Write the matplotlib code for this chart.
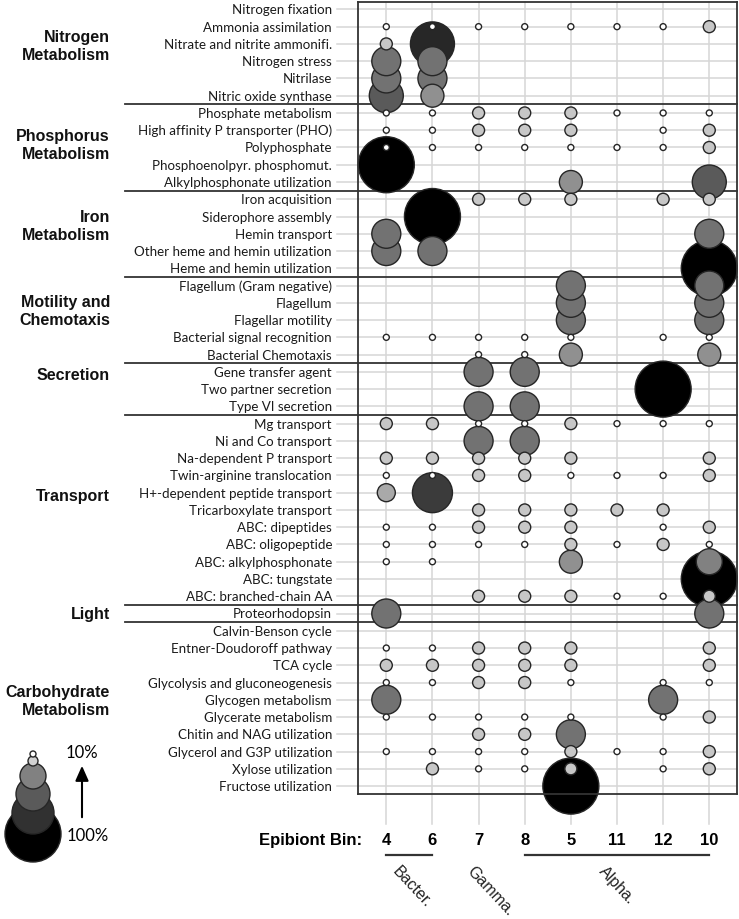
import numpy as np
import matplotlib
matplotlib.use("Agg")
import matplotlib.pyplot as plt
from matplotlib.colors import LinearSegmentedColormap

N = None
bins = ["4", "6", "7", "8", "5", "11", "12", "10"]

nitrogen_functions = ["Nitrogen fixation", "Ammonia assimilation", "Nitrate and nitrite ammonifi.",
                      "Nitrogen stress", "Nitrilase", "Nitric oxide synthase"]
nitrogen_values = [[N, N, N, N, N, N, N, N],
                   [0, 0, 0, 0, 0, 0, 0, 12],
                   [12, 76, N, N, N, N, N, N],
                   [46, 46, N, N, N, N, N, N],
                   [46, 46, N, N, N, N, N, N],
                   [56, 34, N, N, N, N, N, N]]

phosphorus_functions = ["Phosphate metabolism", "High affinity P transporter (PHO)", "Polyphosphate",
                        "Phosphoenolpyr. phosphomut.", "Alkylphosphonate utilization"]
phosphorus_values = [[0, 0, 12, 12, 12, 0, 0, 0],
                     [0, 0, 12, 12, 12, N, 0, 12],
                     [0, 0, 0, 0, 0, 0, 0, 12],
                     [100, N, N, N, N, N, N, N],
                     [N, N, N, N, 34, N, N, 56]]

iron_functions = ["Iron acquisition", "Siderophore assembly", "Hemin transport",
                  "Other heme and hemin utilization", "Heme and hemin utilization"]
iron_values = [[N, N, 12, 12, 12, N, 12, 12],
               [N, 100, N, N, N, N, N, N],
               [46, N, N, N, N, N, N, 46],
               [46, 46, N, N, N, N, N, N],
               [N, N, N, N, N, N, N, 100]]

motility_functions = ["Flagellum (Gram negative)", "Flagellum", "Flagellar motility",
                      "Bacterial signal recognition", "Bacterial Chemotaxis"]
motility_values = [[N, N, N, N, 46, N, N, 46],
                   [N, N, N, N, 46, N, N, 46],
                   [N, N, N, N, 46, N, N, 46],
                   [0, 0, 0, 0, 0, N, 0, 0],
                   [N, N, 0, 0, 34, N, N, 34]]

secretion_functions = ["Gene transfer agent", "Two partner secretion", "Type VI secretion"]
secretion_values = [[N, N, 46, 46, N, N, N, N],
                    [N, N, N, N, N, N, 100, N],
                    [N, N, 46, 46, N, N, N, N]]

transport_functions = ["Mg transport", "Ni and Co transport", "Na-dependent P transport",
                       "Twin-arginine translocation", "H+-dependent peptide transport",
                       "Tricarboxylate transport", "ABC: dipeptides", "ABC: oligopeptide",
                       "ABC: alkylphosphonate", "ABC: tungstate", "ABC: branched-chain AA"]
transport_values = [[12, 12, 0, 0, 12, 0, 0, 0],
                    [N, N, 46, 46, N, N, N, N],
                    [12, 12, 12, 12, 12, N, N, 12],
                    [0, 0, 12, 12, 0, 0, 0, 12],
                    [24, 68, N, N, N, N, N, N],
                    [N, N, 12, 12, 12, 12, 12, N],
                    [0, 0, 12, 12, 12, N, 0, 12],
                    [0, 0, 0, 0, 12, 0, 12, 0],
                    [0, 0, N, N, 34, N, N, 40],
                    [N, N, N, N, N, N, N, 100],
                    [N, N, 12, 12, 12, 0, 0, 12]]

light_functions = ["Proteorhodopsin"]
light_values = [[46, N, N, N, N, N, N, 46]]

carbo_functions = ["Calvin-Benson cycle", "Entner-Doudoroff pathway", "TCA cycle",
                   "Glycolysis and gluconeogenesis", "Glycogen metabolism", "Glycerate metabolism",
                   "Chitin and NAG utilization", "Glycerol and G3P utilization",
                   "Xylose utilization", "Fructose utilization"]
carbo_values = [[N, N, N, N, N, N, N, N],
                [0, 0, 12, 12, 12, N, N, 12],
                [12, 12, 12, 12, 12, N, N, 12],
                [0, 0, 12, 12, 0, N, 0, 0],
                [46, N, N, N, N, N, 46, N],
                [0, 0, 0, 0, 0, N, 0, 12],
                [N, N, 12, 12, 46, N, N, N],
                [0, 0, 0, 0, 12, 0, 0, 12],
                [N, 12, 0, 0, 12, N, 0, 12],
                [N, N, N, N, 100, N, N, N]]

section_names = ["Nitrogen\nMetabolism", "Phosphorus\nMetabolism", "Iron\nMetabolism",
                 "Motility and\nChemotaxis", "Secretion", "Transport", "Light",
                 "Carbohydrate\nMetabolism"]
section_functions = [nitrogen_functions, phosphorus_functions, iron_functions, motility_functions,
                     secretion_functions, transport_functions, light_functions, carbo_functions]
section_values = [nitrogen_values, phosphorus_values, iron_values, motility_values,
                  secretion_values, transport_values, light_values, carbo_values]
section_label_rows = [2.12, 7.8, 12.5, 17.45, 21.15, 28.15, 35.0, 40.05]

legend_values = [100, 72, 56, 40, 8, 0]
legend_ypx = [835, 814, 795, 777, 762, 755]

# ---------------------------------------------------------------
W, H, DPI = 739, 920, 100
fig = plt.figure(figsize=(W / DPI, H / DPI), dpi=DPI)
fig.patch.set_facecolor("white")

cmap = LinearSegmentedColormap.from_list(
    "bub", [(0.0, "#ffffff"), (0.02, "#e0e0e0"), (1.0, "#000000")])
VMAX = 92.0


def size_of(v):
    r_px = 3 + 0.25 * np.asarray(v, dtype=float)
    return (2 * r_px * 72.0 / DPI) ** 2


# overlay axes in pixel coordinates (for legend)
ov = fig.add_axes([0, 0, 1, 1], zorder=0)
ov.set_xlim(0, W)
ov.set_ylim(H, 0)
ov.axis("off")

# main axes
left_px, right_px, top_px, bot_px = 358, 737, 3, 795
ax = fig.add_axes([left_px / W, 1 - bot_px / H, (right_px - left_px) / W, (bot_px - top_px) / H],
                  zorder=1)
ax.patch.set_alpha(0)
x0_px, dx_px = 386.3, 46.14
y0_px, dy_px = 10.4, 17.26
ax.set_xlim((left_px - x0_px) / dx_px, (right_px - x0_px) / dx_px)
ax.set_ylim((bot_px - y0_px) / dy_px, (top_px - y0_px) / dy_px)
ax.set_xticks([])
ax.set_yticks([])
for s in ax.spines.values():
    s.set_color("#333333")
    s.set_linewidth(1.3)
    s.set_zorder(3)


def px2x(p):
    return (p - x0_px) / dx_px


def px2y(p):
    return (p - y0_px) / dy_px


all_functions = [f for fs in section_functions for f in fs]
all_values = [row for vs in section_values for row in vs]
nrows = len(all_functions)
ncols = len(bins)

xl, xr = ax.get_xlim()
# row grid lines
for r in range(nrows):
    ax.plot([px2x(337), xr], [r, r], color="#d6d6d6", lw=1.1, zorder=0, clip_on=False)
# column grid lines
for c in range(ncols):
    ax.plot([c, c], [px2y(top_px), px2y(825)], color="#d6d6d6", lw=1.1, zorder=0, clip_on=False)

# section dividers and labels
start = 0
for k, fs in enumerate(section_functions):
    end = start + len(fs)
    if k < len(section_functions) - 1:
        ax.plot([px2x(125), xr], [end - 0.5, end - 0.5], color="#333333", lw=1.3,
                zorder=1, clip_on=False)
    start = end

for name, yr in zip(section_names, section_label_rows):
    ax.text(px2x(110), yr, name, ha="right", va="center", fontsize=11.5, fontweight="bold",
            family="Liberation Sans", color="#111111", linespacing=1.25, clip_on=False)

# function labels
for r, f in enumerate(all_functions):
    ax.text(px2x(332), r, f, ha="right", va="center", fontsize=9.6, family="Lato",
            color="#1a1a1a", clip_on=False)

# bubbles
xs, ys, vs = [], [], []
for r, row in enumerate(all_values):
    for c, v in enumerate(row):
        if v is not None:
            xs.append(c)
            ys.append(r)
            vs.append(v)
xs, ys, vs = np.array(xs), np.array(ys), np.array(vs, dtype=float)
order = np.lexsort((-ys, -vs))  # largest first; ties: lower rows first
ax.scatter(xs[order], ys[order], s=size_of(vs[order]), c=vs[order], cmap=cmap, vmin=0, vmax=VMAX,
           edgecolors="#262626", linewidths=1.0, zorder=2, clip_on=False)

# bin labels
ybin = px2y(841)
ax.text(px2x(362), ybin, "Epibiont Bin:", ha="right", va="center", fontsize=12,
        fontweight="bold", family="Liberation Sans", clip_on=False)
for c, b in enumerate(bins):
    ax.text(c, ybin, b, ha="center", va="center", fontsize=12, fontweight="bold",
            family="Liberation Sans", clip_on=False)

# taxonomic groups
yline = px2y(856)
ax.plot([0, 1], [yline, yline], color="#333333", lw=1.6, clip_on=False)
ax.plot([3, 7], [yline, yline], color="#333333", lw=1.6, clip_on=False)
for lab, xp in [("Bacter.", 401), ("Gamma.", 475), ("Alpha.", 607)]:
    ax.text(px2x(xp), px2y(864), lab, rotation=-47, rotation_mode="anchor", ha="left",
            va="top", fontsize=11.5, family="Liberation Sans", color="#222222", clip_on=False)

# legend
ov.scatter([33] * len(legend_values), legend_ypx, s=size_of(legend_values), c=legend_values,
           cmap=cmap, vmin=0, vmax=VMAX, edgecolors="#262626", linewidths=1.0)
ov.annotate("", xy=(82, 764), xytext=(82, 821),
            arrowprops=dict(arrowstyle="-|>,head_width=0.4,head_length=0.9", color="black", lw=1.5))
ov.text(82, 753, "10%", ha="center", va="center", fontsize=12, family="Lato")
ov.text(67, 836, "100%", ha="left", va="center", fontsize=12, family="Lato")

fig.savefig("out.png", dpi=DPI)
